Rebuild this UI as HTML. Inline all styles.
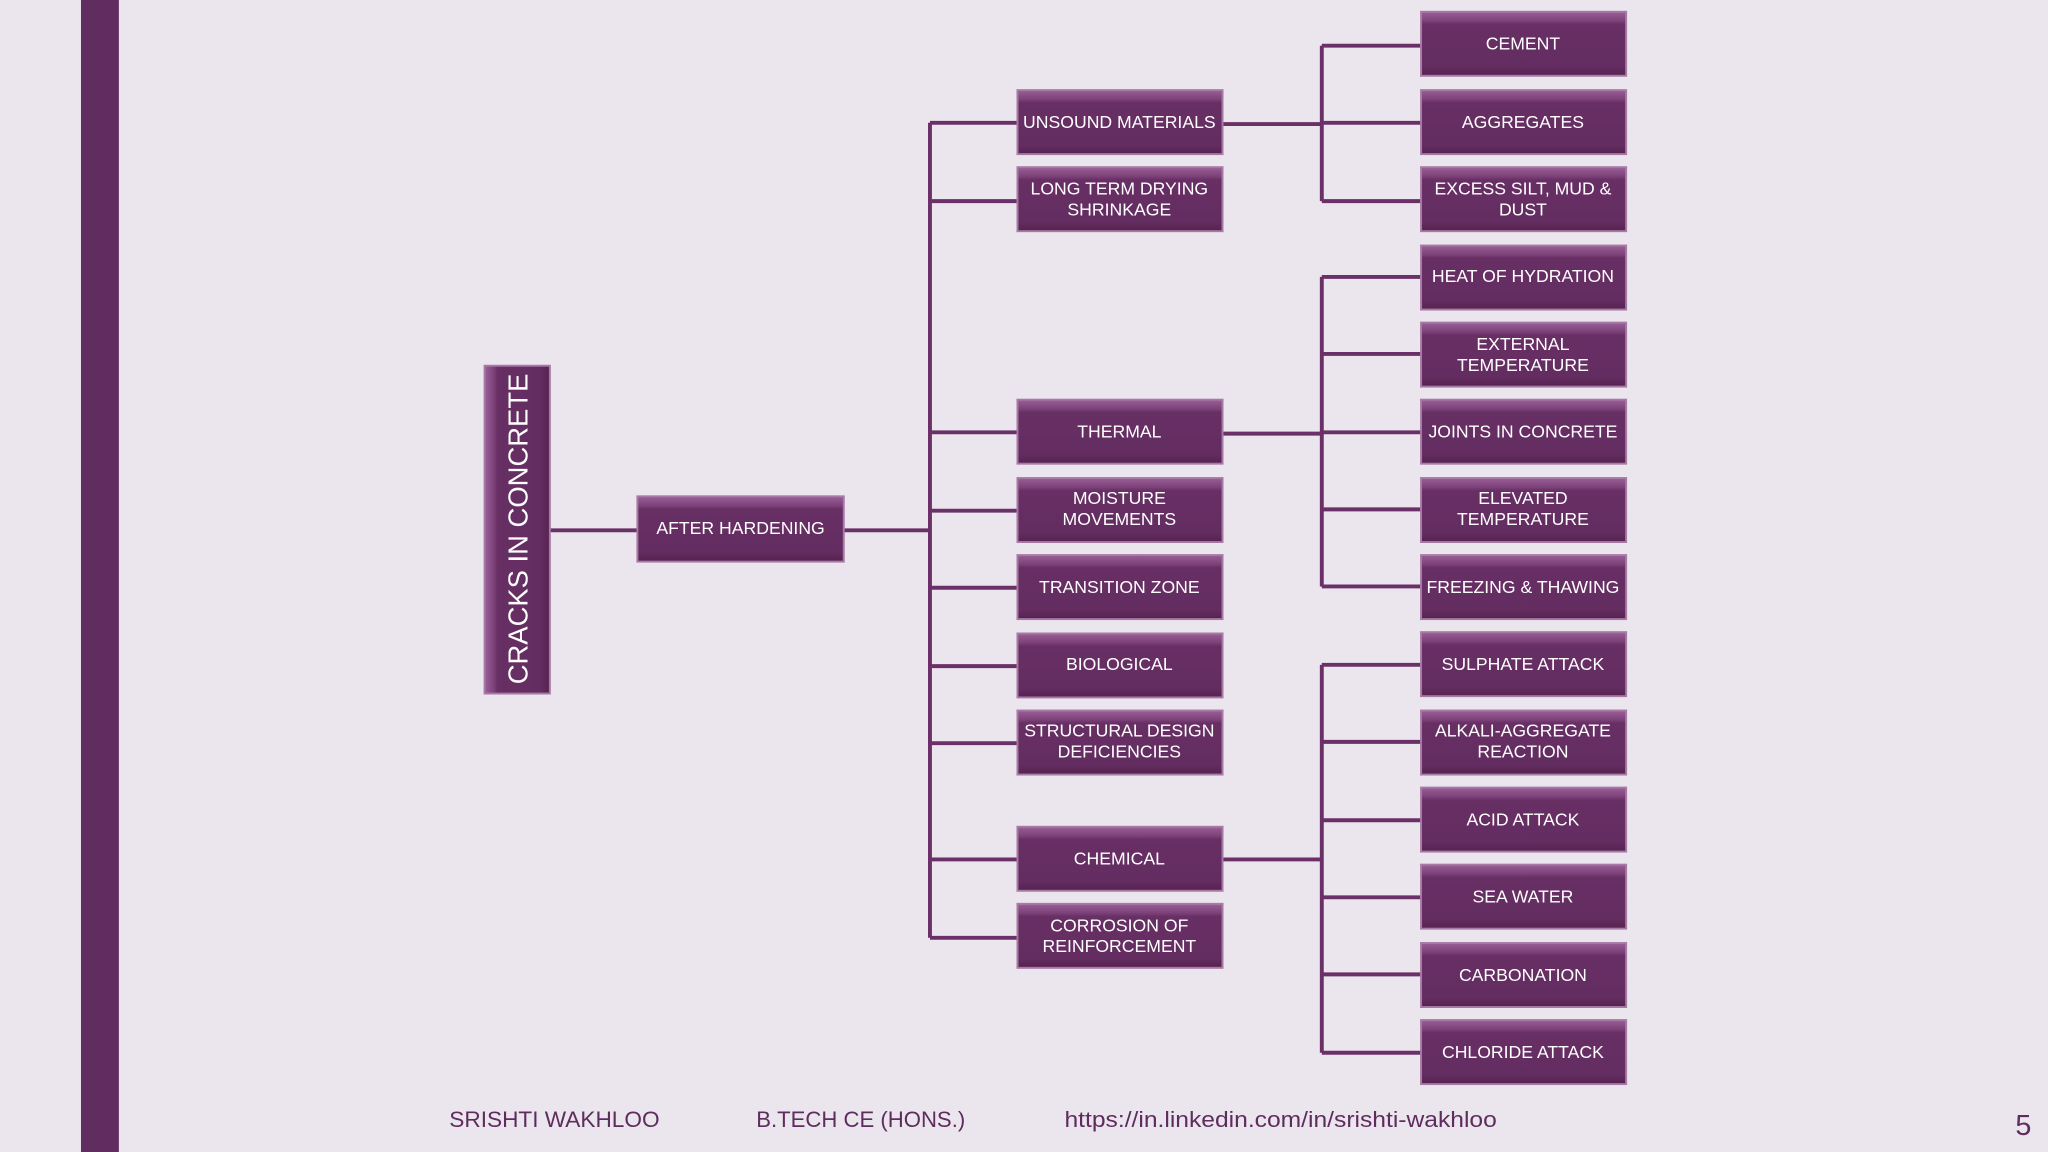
<!DOCTYPE html>
<html><head><meta charset="utf-8"><style>
html,body{margin:0;padding:0;background:#ebe6ee;}
svg{display:block}
text{font-family:"Liberation Sans",sans-serif;}
</style></head><body>
<svg width="2048" height="1152" viewBox="0 0 1568 882" xmlns="http://www.w3.org/2000/svg">
<defs>
<linearGradient id="g" x1="0" y1="0" x2="0" y2="1">
<stop offset="0" stop-color="#9a5f97"/><stop offset="0.14" stop-color="#7d427a"/><stop offset="0.2" stop-color="#672f64"/><stop offset="0.85" stop-color="#642d61"/><stop offset="1" stop-color="#55234f"/>
</linearGradient>
<linearGradient id="gv" x1="0" y1="0" x2="1" y2="0">
<stop offset="0" stop-color="#9a5f97"/><stop offset="0.14" stop-color="#7d427a"/><stop offset="0.2" stop-color="#672f64"/><stop offset="0.85" stop-color="#642d61"/><stop offset="1" stop-color="#55234f"/>
</linearGradient>
</defs>
<rect x="0" y="0" width="1568" height="882" fill="#ebe6ee"/>
<rect x="62" y="0" width="29" height="882" fill="#612c5f"/>
<g stroke="#6b3068" stroke-width="3" fill="none">
<path d="M421 406H488"/>
<path d="M646 406H712M712 94V718M712 94H779M712 154H779M712 331H779M712 391H779M712 450H779M712 510H779M712 569H779M712 658H779M712 718H779"/>
<path d="M936 95H1012M1012 35V154M1012 35H1088M1012 94H1088M1012 154H1088"/>
<path d="M936 332H1012M1012 212V449M1012 212H1088M1012 271H1088M1012 331H1088M1012 390H1088M1012 449H1088"/>
<path d="M936 658H1012M1012 509V806M1012 509H1088M1012 568H1088M1012 628H1088M1012 687H1088M1012 746H1088M1012 806H1088"/>
</g>
<g stroke="#a77aa5" stroke-width="1.5">
<rect x="371" y="280" width="50" height="251" fill="url(#gv)"/>
<rect x="488" y="380" width="158" height="50" fill="url(#g)"/>
</g>
<text transform="translate(404,405) rotate(-90)" text-anchor="middle" font-size="21" fill="#fff">CRACKS IN CONCRETE</text>
<text x="567" y="409" text-anchor="middle" font-size="13.5" fill="#fff">AFTER HARDENING</text>
<g stroke="#a77aa5" stroke-width="1.5" fill="url(#g)">
<rect x="779" y="69" width="157" height="49"/><rect x="779" y="128" width="157" height="49"/>
<rect x="779" y="306" width="157" height="49"/><rect x="779" y="366" width="157" height="49"/>
<rect x="779" y="425" width="157" height="49"/><rect x="779" y="485" width="157" height="49"/>
<rect x="779" y="544" width="157" height="49"/><rect x="779" y="633" width="157" height="49"/>
<rect x="779" y="692" width="157" height="49"/>
<rect x="1088" y="9" width="157" height="49"/><rect x="1088" y="69" width="157" height="49"/>
<rect x="1088" y="128" width="157" height="49"/><rect x="1088" y="188" width="157" height="49"/>
<rect x="1088" y="247" width="157" height="49"/><rect x="1088" y="306" width="157" height="49"/>
<rect x="1088" y="366" width="157" height="49"/><rect x="1088" y="425" width="157" height="49"/>
<rect x="1088" y="484" width="157" height="49"/><rect x="1088" y="544" width="157" height="49"/>
<rect x="1088" y="603" width="157" height="49"/><rect x="1088" y="662" width="157" height="49"/>
<rect x="1088" y="722" width="157" height="49"/><rect x="1088" y="781" width="157" height="49"/>
</g>
<g font-size="13.5" fill="#fff" text-anchor="middle">
<text x="857" y="98">UNSOUND MATERIALS</text>
<text x="857" y="149">LONG TERM DRYING</text><text x="857" y="165">SHRINKAGE</text>
<text x="857" y="335">THERMAL</text>
<text x="857" y="386">MOISTURE</text><text x="857" y="402">MOVEMENTS</text>
<text x="857" y="454">TRANSITION ZONE</text>
<text x="857" y="513">BIOLOGICAL</text>
<text x="857" y="564">STRUCTURAL DESIGN</text><text x="857" y="580">DEFICIENCIES</text>
<text x="857" y="662">CHEMICAL</text>
<text x="857" y="713">CORROSION OF</text><text x="857" y="729">REINFORCEMENT</text>
<text x="1166" y="38">CEMENT</text>
<text x="1166" y="98">AGGREGATES</text>
<text x="1166" y="149">EXCESS SILT, MUD &amp;</text><text x="1166" y="165">DUST</text>
<text x="1166" y="216">HEAT OF HYDRATION</text>
<text x="1166" y="268">EXTERNAL</text><text x="1166" y="284">TEMPERATURE</text>
<text x="1166" y="335">JOINTS IN CONCRETE</text>
<text x="1166" y="386">ELEVATED</text><text x="1166" y="402">TEMPERATURE</text>
<text x="1166" y="454">FREEZING &amp; THAWING</text>
<text x="1166" y="513">SULPHATE ATTACK</text>
<text x="1166" y="564">ALKALI-AGGREGATE</text><text x="1166" y="580">REACTION</text>
<text x="1166" y="632">ACID ATTACK</text>
<text x="1166" y="691">SEA WATER</text>
<text x="1166" y="751">CARBONATION</text>
<text x="1166" y="810">CHLORIDE ATTACK</text>
</g>
<g font-size="17" fill="#5e2d5e">
<text x="344" y="863" textLength="161" lengthAdjust="spacingAndGlyphs">SRISHTI WAKHLOO</text>
<text x="579" y="863" textLength="160" lengthAdjust="spacingAndGlyphs">B.TECH CE (HONS.)</text>
<text x="815" y="863" textLength="331" lengthAdjust="spacingAndGlyphs">https://in.linkedin.com/in/srishti-wakhloo</text>
<text x="1543" y="869" font-size="22">5</text>
</g>
</svg>
</body></html>
